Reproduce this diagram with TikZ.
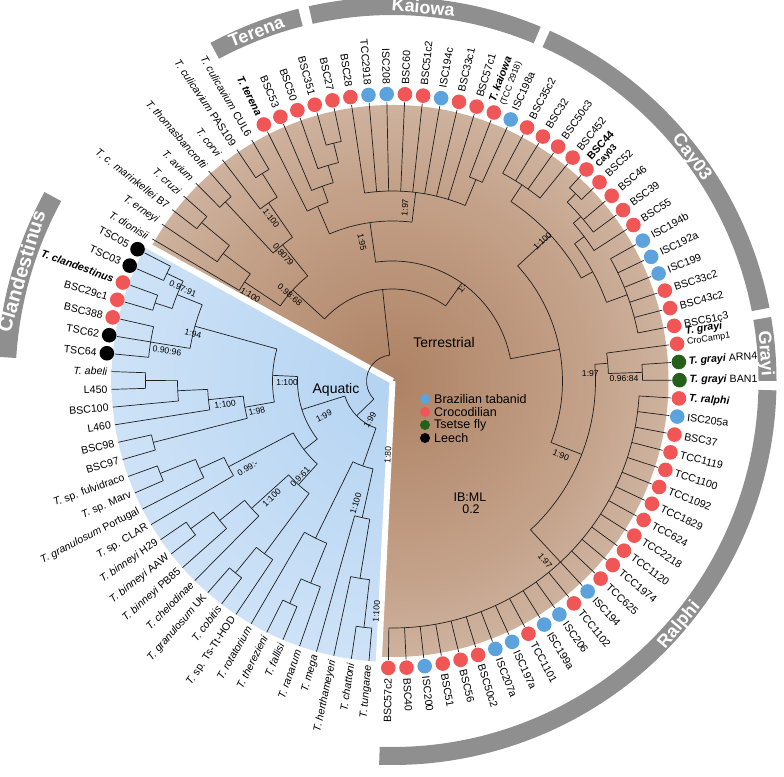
\documentclass[tikz,border=0pt]{standalone}
\usepackage{fontspec}
\setmainfont{Liberation Sans}
\definecolor{cr}{RGB}{241,86,86}
\definecolor{cb}{RGB}{92,163,222}
\definecolor{cg}{RGB}{36,96,26}
\definecolor{ck}{RGB}{0,0,0}
\definecolor{barc}{RGB}{143,143,143}
\definecolor{brA}{RGB}{174,130,100}
\definecolor{brB}{RGB}{196,162,138}
\definecolor{brC}{RGB}{222,204,190}
\definecolor{brD}{RGB}{237,228,221}
\definecolor{brE}{RGB}{252,250,248}
\definecolor{blA}{RGB}{180,211,241}
\definecolor{blB}{RGB}{200,223,246}
\definecolor{blC}{RGB}{222,235,249}
\definecolor{blD}{RGB}{236,244,252}
\pgfdeclareradialshading{brsh}{\pgfpoint{0bp}{0bp}}{color(0bp)=(brA); color(18bp)=(brB); color(36bp)=(brC); color(47bp)=(brD); color(50bp)=(brE)}
\pgfdeclareradialshading{blsh}{\pgfpoint{0bp}{0bp}}{color(0bp)=(blA); color(20bp)=(blB); color(38bp)=(blC); color(50bp)=(blD)}
\newcommand\tbr[3]{\draw[br] (#1:#2pt) -- (#1:#3pt);}
\newcommand\tarc[3]{\draw[br] (#2:#1pt) arc[start angle=#2,end angle=#3,radius=#1pt];}
\newcommand\cbar[4]{\fill[barc] (#1:#3pt) arc[start angle=#1,end angle=#2,radius=#3pt] -- (#2:#4pt) arc[start angle=#2,end angle=#1,radius=#4pt] -- cycle;}
\begin{document}
\begin{tikzpicture}[x=1pt,y=1pt,
 br/.style={line width=0.7pt, draw=black!88},
 dot/.style={circle, inner sep=0pt, minimum size=14.6pt, draw=none},
 ldot/.style={circle, inner sep=0pt, minimum size=10pt, draw=none},
 lab/.style={inner sep=0pt, font=\fontsize{10.6}{11.5}\selectfont, align=left},
 sv/.style={inner sep=0pt, font=\fontsize{8.6}{9}\selectfont},
 bartxt/.style={text=white, font=\bfseries\fontsize{18}{18}\selectfont, inner sep=0pt, text height=12.5pt, text depth=0pt},
 big/.style={inner sep=0pt, font=\fontsize{14}{15}\selectfont},
 leg/.style={inner sep=0pt, anchor=west, font=\fontsize{12.5}{13}\selectfont}]
\useasboundingbox (0,0) rectangle (784,776);
\begin{scope}[shift={(392.5,395)}]
% backgrounds
\begin{scope}
\clip (0,0) -- (-92.8:300pt) arc[start angle=-92.8,end angle=151.05,radius=300pt] -- cycle;
\shade[shading=brsh] (0,0) circle (276pt);
\end{scope}
\begin{scope}
\clip (0,0) -- (151.05:300pt) arc[start angle=151.05,end angle=267.2,radius=300pt] -- cycle;
\shade[shading=blsh] (0,0) circle (281pt);
\end{scope}
\draw[white,line width=6pt] (0,0) -- (151.05:300pt);
\draw[white,line width=6pt] (0,0) -- (267.2:300pt);
% ---------- root ----------
\tarc{26}{96.2}{224.1} \tbr{96.2}{26}{92} \tbr{224.1}{26}{50}
% ---------- terrestrial ----------
\tarc{92}{54.7}{137.6} \tbr{137.6}{92}{135} \tbr{54.7}{92}{120}
\tarc{135}{128.9}{146.2} \tbr{146.2}{135}{178} \tbr{128.9}{135}{175}
\tarc{178}{143.03}{149.4} \tbr{149.4}{178}{279} \tbr{143.03}{178}{212}
\tarc{212}{140.3}{145.76} \tbr{145.76}{212}{279} \tbr{140.3}{212}{248}
\tarc{248}{138.48}{142.12} \tbr{142.12}{248}{279} \tbr{138.48}{248}{279}
\tarc{175}{124.83}{133.02} \tbr{133.02}{175}{245} \tbr{124.83}{175}{217}
\tarc{245}{131.2}{134.84} \tbr{134.84}{245}{279} \tbr{131.2}{245}{279}
\tarc{217}{122.1}{127.56} \tbr{127.56}{217}{279} \tbr{122.1}{217}{245}
\tarc{245}{120.28}{123.92} \tbr{123.92}{245}{279} \tbr{120.28}{245}{279}
\tarc{120}{10.7}{98.1} \tbr{98.1}{120}{160} \tbr{10.7}{120}{170}
\tarc{160}{83.0}{113.2} \tbr{113.2}{160}{190} \tbr{83.0}{160}{190}
\tarc{190}{109.8}{116.64} \tbr{116.64}{190}{279} \tbr{109.8}{190}{207}
\tarc{207}{106.63}{113.0} \tbr{113.0}{207}{279} \tbr{106.63}{207}{225}
\tarc{225}{103.9}{109.36} \tbr{109.36}{225}{279} \tbr{103.9}{225}{245}
\tarc{245}{102.08}{105.72} \tbr{105.72}{245}{279} \tbr{102.08}{245}{279}
\tarc{190}{67.5}{98.44}
\foreach \a in {98.44,94.8,91.16,87.52,83.88,80.24,76.6,72.96} {\tbr{\a}{190}{279}}
\tbr{67.5}{190}{218}
\tarc{218}{65.68}{69.32} \tbr{69.32}{218}{279} \tbr{65.68}{218}{279}
\tarc{170}{-21.2}{42.6} \tbr{42.6}{170}{215} \tbr{-21.2}{170}{203}
\tarc{215}{28.6}{56.58} \tbr{56.58}{215}{235} \tbr{28.6}{215}{228}
\tarc{235}{51.12}{62.04}
\foreach \a in {62.04,58.4,54.76,51.12} {\tbr{\a}{235}{279}}
\tarc{228}{20.18}{37.0} \tbr{37.0}{228}{240} \tbr{20.18}{228}{250}
\tarc{240}{32.92}{41.1} \tbr{41.1}{240}{250} \tbr{32.92}{240}{279}
\tarc{250}{36.56}{45.66} \tbr{45.66}{250}{262} \tbr{40.2}{250}{279} \tbr{36.56}{250}{279}
\tarc{262}{43.84}{47.48} \tbr{47.48}{262}{279} \tbr{43.84}{262}{279}
\tarc{250}{11.08}{29.28}
\foreach \a in {29.28,25.64,22.0,18.36,14.72,11.08} {\tbr{\a}{250}{279}}
\tarc{203}{-47.16}{4.71} \tbr{4.71}{203}{216} \tbr{-47.16}{203}{247}
\tarc{216}{1.98}{7.44} \tbr{7.44}{216}{279} \tbr{1.98}{216}{250}
\tarc{250}{0.16}{3.8} \tbr{3.8}{250}{279} \tbr{0.16}{250}{279}
\tarc{247}{-90.84}{-3.48}
\foreach \a in {-3.48,-7.12,-10.76,-14.4,-18.04,-21.68,-25.32,-28.96,-32.6,-36.24,-39.88,-43.52,-47.16,-50.8,-54.44,-58.08,-61.72,-65.36,-69.0,-72.64,-76.28,-79.92,-83.56,-87.2,-90.84} {\tbr{\a}{247}{279}}
% ---------- aquatic ----------
\tarc{50}{197.5}{250.7} \tbr{197.5}{50}{95} \tbr{250.7}{50}{90}
\tarc{95}{177.3}{217.7} \tbr{177.3}{95}{120} \tbr{217.7}{95}{112}
\tarc{120}{164.5}{190.1} \tbr{164.5}{120}{205} \tbr{190.1}{120}{150}
\tarc{205}{158.15}{170.85} \tbr{158.15}{205}{232} \tbr{170.85}{205}{245}
\tarc{232}{154.5}{161.8} \tbr{154.5}{232}{250} \tbr{161.8}{232}{250}
\tarc{250}{152.67}{156.3} \tbr{152.67}{250}{279} \tbr{156.3}{250}{279}
\tarc{250}{159.93}{163.56} \tbr{159.93}{250}{279} \tbr{163.56}{250}{279}
\tarc{245}{167.19}{174.45} \tbr{167.19}{245}{279} \tbr{170.82}{245}{279} \tbr{174.45}{245}{279}
\tarc{150}{185.8}{194.4} \tbr{185.8}{150}{185} \tbr{194.4}{150}{247}
\tarc{185}{182.6}{188.97} \tbr{182.6}{185}{215} \tbr{188.97}{185}{281}
\tarc{215}{179.9}{185.34} \tbr{179.9}{215}{247} \tbr{185.34}{215}{281}
\tarc{247}{178.08}{181.71} \tbr{178.08}{247}{281} \tbr{181.71}{247}{281}
\tarc{247}{192.6}{196.23} \tbr{192.6}{247}{281} \tbr{196.23}{247}{281}
\tarc{112}{207.6}{227.8} \tbr{207.6}{112}{185} \tbr{227.8}{112}{140}
\tarc{185}{204.4}{210.75} \tbr{204.4}{185}{212} \tbr{210.75}{185}{281}
\tarc{212}{201.7}{207.12} \tbr{201.7}{212}{250} \tbr{207.12}{212}{281}
\tarc{250}{199.86}{203.49} \tbr{199.86}{250}{281} \tbr{203.49}{250}{281}
\tarc{140}{222.1}{233.45} \tbr{222.1}{140}{190} \tbr{233.45}{140}{215}
\tarc{190}{218.9}{225.27} \tbr{218.9}{190}{222} \tbr{225.27}{190}{281}
\tarc{222}{216.2}{221.64} \tbr{216.2}{222}{250} \tbr{221.64}{222}{281}
\tarc{250}{214.38}{218.01} \tbr{214.38}{250}{281} \tbr{218.01}{250}{281}
\tarc{215}{230.7}{236.16} \tbr{230.7}{215}{248} \tbr{236.16}{215}{281}
\tarc{248}{228.9}{232.53} \tbr{228.9}{248}{281} \tbr{232.53}{248}{281}
\tarc{90}{243.9}{257.5} \tbr{243.9}{90}{175} \tbr{257.5}{90}{140}
\tarc{175}{239.79}{247.95} \tbr{239.79}{175}{281} \tbr{247.95}{175}{218}
\tarc{218}{245.2}{250.68} \tbr{245.2}{218}{245} \tbr{250.68}{218}{281}
\tarc{245}{243.42}{247.05} \tbr{243.42}{245}{281} \tbr{247.05}{245}{281}
\tarc{140}{254.31}{260.65} \tbr{254.31}{140}{281} \tbr{260.65}{140}{200}
\tarc{200}{257.94}{263.4} \tbr{257.94}{200}{281} \tbr{263.4}{200}{248}
\tarc{248}{261.57}{265.2} \tbr{261.57}{248}{281} \tbr{265.2}{248}{281}
% ---------- tip circles ----------
\foreach \a/\c [count=\i] in {116.64/cr,113.0/cr,109.36/cr,105.72/cr,102.08/cr,98.44/cr,94.8/cb,91.16/cb,87.52/cr,83.88/cr,80.24/cb,76.6/cr,72.96/cr,69.32/cr,65.68/cb,62.04/cr,58.4/cr,54.76/cr,51.12/cr,47.48/cr,43.84/cr,40.2/cr,36.56/cr,32.92/cr,29.28/cb,25.64/cb,22.0/cb,18.36/cr,14.72/cr,11.08/cr,7.44/cr,3.8/cg,0.16/cg,-3.48/cr,-7.12/cb,-10.76/cr,-14.4/cr,-18.04/cr,-21.68/cr,-25.32/cr,-28.96/cr,-32.6/cr,-36.24/cr,-39.88/cr,-43.52/cr,-47.16/cb,-50.8/cr,-54.44/cb,-58.08/cb,-61.72/cr,-65.36/cb,-69.0/cb,-72.64/cr,-76.28/cr,-79.92/cr,-83.56/cb,-87.2/cr,-90.84/cr}
 {\node[dot,fill=\c] (tc\i) at (\a:287pt) {};}
\foreach \a/\c [count=\i] in {174.45/ck,170.82/ck,167.19/cr,163.56/cr,159.93/cr,156.3/ck,152.67/ck}
 {\node[dot,fill=\c] (ac\i) at (\a:287pt) {};}
% ---------- tip labels ----------
\foreach \a/\rr/\t [count=\i] in {
149.4/284/{\textit{T. dionisii}},
145.76/284/{\textit{T. erneyi}},
142.12/284/{\textit{T. c. marinkellei} B7},
138.48/284/{\textit{T. cruzi}},
134.84/284/{\textit{T. avium}},
131.2/284/{\textit{T. thomasbancrofti}},
127.56/284/{\textit{T. corvi}},
123.92/284/{\textit{T. culicavium} PAS109},
120.28/284/{\textit{T. culicavium} CUL6},
116.64/297/{\textbf{\textit{T. terena}}},
113.0/297/BSC53,109.36/297/BSC50,105.72/297/BSC351,102.08/297/BSC27,98.44/297/BSC28,94.8/297/TCC2918,91.16/297/ISC208,
-90.84/297/BSC57c2}
 {\node[lab,anchor=east,rotate=\a-180] (tla\i) at (\a:\rr pt) {\t};}
\foreach \a/\t [count=\i] in {
87.52/BSC60,83.88/BSC51c2,80.24/ISC194c,76.6/BSC33c1,72.96/BSC57c1,
69.32/{\textbf{\textit{T. kaiowa}}\\[-1pt]{\fontsize{8.8}{9}\selectfont (TCC 2918)}},
65.68/ISC198a,62.04/BSC35c2,58.4/BSC32,54.76/BSC50c3,51.12/BSC452,
47.48/{\textbf{BSC44}\\[-1pt]{\bfseries\fontsize{9}{9}\selectfont Cay03}},
43.84/BSC52,40.2/BSC46,36.56/BSC39,32.92/BSC55,29.28/ISC194b,25.64/ISC192a,22.0/ISC199,18.36/BSC33c2,14.72/BSC43c2,11.08/BSC51c3,
8.6/{\textbf{\textit{T. grayi}}\\[-1pt]{\fontsize{9}{9}\selectfont CroCamp1}},
3.8/{\textbf{\textit{T. grayi}} ARN4},0.16/{\textbf{\textit{T. grayi}} BAN1},-3.48/{\textbf{\textit{T. ralphi}}},
-7.12/ISC205a,-10.76/BSC37,-14.4/TCC1119,-18.04/TCC1100,-21.68/TCC1092,-25.32/TCC1829,-28.96/TCC624,-32.6/TCC2218,-36.24/TCC1120,-39.88/TCC1974,-43.52/TCC625,-47.16/ISC194,-50.8/TCC1102,-54.44/ISC206,-58.08/ISC199a,-61.72/TCC1101,-65.36/ISC197a,-69.0/ISC207a,-72.64/BSC50c2,-76.28/BSC56,-79.92/BSC51,-83.56/ISC200,-87.2/BSC40}
 {\node[lab,anchor=west,rotate=\a] (tlb\i) at (\a:297pt) {\t};}
\foreach \a/\rr/\t [count=\i] in {
265.2/285/{\textit{T. tungarae}},
261.57/285/{\textit{T. chattoni}},
257.94/285/{\textit{T. herthameyeri}},
254.31/285/{\textit{T. mega}},
250.68/285/{\textit{T. ranarum}},
247.05/285/{\textit{T. fallisi}},
243.42/285/{\textit{T. therezieni}},
239.79/285/{\textit{T. rotatorium}},
236.16/285/{\textit{T.} sp. Ts-Tt-HOD},
232.53/285/{\textit{T. cobitis}},
228.9/285/{\textit{T. granulosum} UK},
225.27/285/{\textit{T. chelodinae}},
221.64/285/{\textit{T. binneyi} PB85},
218.01/285/{\textit{T. binneyi} AAW},
214.38/285/{\textit{T. binneyi} H29},
210.75/285/{\textit{T.} sp. CLAR},
207.12/285/{\textit{T. granulosum} Portugal},
203.49/285/{\textit{T.} sp. Marv},
199.86/285/{\textit{T.} sp. fulvidraco},
196.23/285/BSC97,192.6/285/BSC98,188.97/285/L460,185.34/285/BSC100,181.71/285/L450,
178.08/285/{\textit{T. abeli}},
174.45/297/TSC64,170.82/297/TSC62,167.19/297/BSC388,163.56/297/BSC29c1,
159.93/297/{\textbf{\textit{T. clandestinus}}},
156.3/297/TSC03,152.67/297/TSC05}
 {\node[lab,anchor=east,rotate=\a-180] (al\i) at (\a:\rr pt) {\t};}
% ---------- support values ----------
\foreach \a/\rr/\o/\t [count=\i] in {
148.9/166/-31.1/{1:100},140/134/-40/{0.98:68},131/167/-49/{0,8079},126.7/203/-53.3/{1:100},
102.4/142/-77.6/{1:95},85.9/174/85.9/{1:97},53.2/116/53.2/{1:-},43/205/43/{1:100},
2.2/198/0/{1:97},0.5/231.5/0/{0.96:84},-23.7/184/-23.7/{1:90},-49.7/236/-49.7/{1:97},
156.3/229/-23.7/{0.97:91},166.7/205/-13.3/{1:94},172.4/227.5/-7.6/{0.90:96},
188/169/8/{1:100},192.5/139/12.5/{1:98},181/105.5/1/{1:100},
207/77/27/{1:99},240/45/60/{1:99},211/169/31/{0.99:-},224/168/44/{1:100},
226/133/46/{0.9:61},266.5/74/86.5/{1:80},266/231/86/{1:100},253.3/128/73.3/{1:100}}
 {\node[sv,rotate=\o] (sv\i) at (\a:\rr pt) {\t};}
% ---------- clade bars ----------
\cbar{151.5}{176.5}{377}{396}
\cbar{104.2}{118.3}{366}{384}
\cbar{67.3}{102.6}{366}{384}
\cbar{11}{65.8}{366}{384}
\cbar{0}{9.6}{366}{384}
\cbar{-92}{-1.4}{366}{384}
\node[bartxt,rotate=73.5,font=\bfseries\fontsize{20}{20}\selectfont] (bClan) at (163.5:386.5pt) {Clandestinus};
\node[bartxt,rotate=21.3] (bTer) at (111.3:375pt) {Terena};
\node[bartxt,rotate=-4.7] (bKai) at (85.3:375pt) {Kaiowa};
\node[bartxt,rotate=-53.2] (bCay) at (36.8:375pt) {Cay03};
\node[bartxt,rotate=-85.8] (bGr) at (4.2:375pt) {Grayi};
\node[bartxt,rotate=49.6] (bRal) at (-40.4:375pt) {Ralphi};
\end{scope}
% ---------- legend and titles ----------
\node[ldot,fill=cb] (lg1) at (425,377) {};
\node[ldot,fill=cr] (lg2) at (425,364) {};
\node[ldot,fill=cg] (lg3) at (425,351) {};
\node[ldot,fill=ck] (lg4) at (425,338) {};
\node[leg] (lt1) at (434,377) {Brazilian tabanid};
\node[leg] (lt2) at (434,364) {Crocodilian};
\node[leg] (lt3) at (434,351) {Tsetse fly};
\node[leg] (lt4) at (434,338) {Leech};
\node[big] (terr) at (444,433) {Terrestrial};
\node[big] (aqua) at (336,386) {Aquatic};
\node[leg,anchor=center] (ibml) at (470,279) {IB:ML};
\node[leg,anchor=center] (scl) at (471,267) {0.2};
\end{tikzpicture}
\end{document}
